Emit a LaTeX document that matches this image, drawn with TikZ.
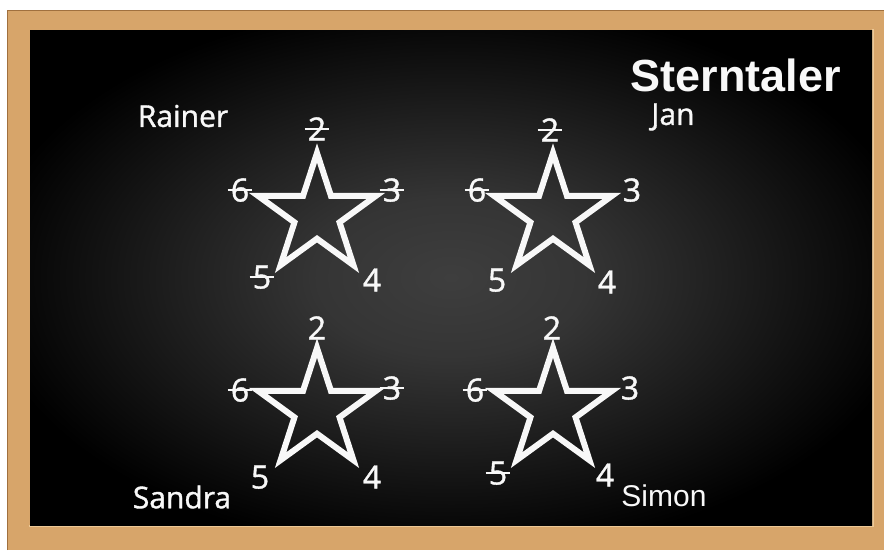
\documentclass[tikz,border=0pt]{standalone}
\usepackage{fontspec}
\setmainfont{Open Sans}
\newfontfamily\chalkfont[RawFeature={embolden=1.2}]{Open Sans}
\newfontfamily\titlefont{Liberation Sans}
\definecolor{woodc}{RGB}{215,165,106}
\definecolor{woodd}{RGB}{160,112,62}
\definecolor{woodl}{RGB}{236,200,150}
\definecolor{boardc}{RGB}{62,62,62}
\definecolor{chalk}{RGB}{248,248,248}
\pgfdeclareradialshading{board}{\pgfpoint{0bp}{0bp}}{color(0bp)=(boardc); color(8bp)=(boardc!85!black); color(28bp)=(black); color(50bp)=(black)}
\newcommand\drawstar[2]{\begin{scope}[shift={(#1,#2)}]\draw[starline] (90:62pt) -- (126:23.7pt) -- (162:62pt) -- (198:23.7pt) -- (234:62pt) -- (270:23.7pt) -- (306:62pt) -- (342:23.7pt) -- (18:62pt) -- (54:23.7pt) -- cycle;\end{scope}}
\newcommand\strikeout[1]{\draw[strikeline] ([xshift=-3pt,yshift=11.5pt]#1.base west) -- ([xshift=3pt,yshift=11.5pt]#1.base east);}
\begin{document}
\begin{tikzpicture}[x=1pt,y=-1pt,
  starline/.style={draw=chalk, line width=6pt, miter limit=10},
  num/.style={text=chalk, font=\chalkfont\fontsize{32}{32}\selectfont, inner sep=0pt, anchor=base},
  pname/.style={text=chalk, font=\chalkfont\fontsize{30}{30}\selectfont, inner sep=0pt},
  strikeline/.style={draw=chalk, line width=2.2pt}]
\useasboundingbox (0,0) rectangle (884,550);
\fill[white] (0,0) rectangle (884,550);
\fill[woodc] (7,10) rectangle (884,550);
\draw[woodd, line width=1.2pt] (7.6,550) -- (7.6,10.6) -- (884,10.6);
\draw[woodl, line width=1.5pt] (29,526) -- (873,526) -- (873,29);
\shade[shading=board] (30,30) rectangle (872,525);
% stars
\drawstar{317}{215}
\drawstar{553}{215}
\drawstar{317}{410}
\drawstar{553}{410}
% title
\node[text=chalk, inner sep=0pt, font=\titlefont\bfseries\fontsize{45}{45}\selectfont] (title) at (736,75) {Sterntaler};
% names
\node[pname] (rainer) at (183,116) {Rainer};
\node[pname] (jan) at (673,117) {Jan};
\node[pname] (sandra) at (182,497) {Sandra};
\node[text=chalk, inner sep=0pt, font=\titlefont\fontsize{30}{30}\selectfont] (simon) at (664,496) {Simon};
% Rainer
\node[num] (r2) at (317,140.5) {2}; \strikeout{r2}
\node[num] (r6) at (240,201.5) {6}; \strikeout{r6}
\node[num] (r3) at (392,201.5) {3}; \strikeout{r3}
\node[num] (r5) at (262,288.5) {5}; \strikeout{r5}
\node[num] (r4) at (372,291.5) {4};
% Jan
\node[num] (j2) at (550,141.5) {2}; \strikeout{j2}
\node[num] (j6) at (477,201.5) {6}; \strikeout{j6}
\node[num] (j3) at (632,201.5) {3};
\node[num] (j5) at (497,291.5) {5};
\node[num] (j4) at (607,293.5) {4};
% Sandra
\node[num] (a2) at (317,339.5) {2};
\node[num] (a6) at (240,401.5) {6}; \strikeout{a6}
\node[num] (a3) at (392,399.5) {3}; \strikeout{a3}
\node[num] (a5) at (260,488.5) {5};
\node[num] (a4) at (372,488.5) {4};
% Simon
\node[num] (m2) at (552,339.5) {2};
\node[num] (m6) at (475,401.5) {6}; \strikeout{m6}
\node[num] (m3) at (630,399.5) {3};
\node[num] (m5) at (498,484.5) {5}; \strikeout{m5}
\node[num] (m4) at (605,486.5) {4};
\end{tikzpicture}
\end{document}
